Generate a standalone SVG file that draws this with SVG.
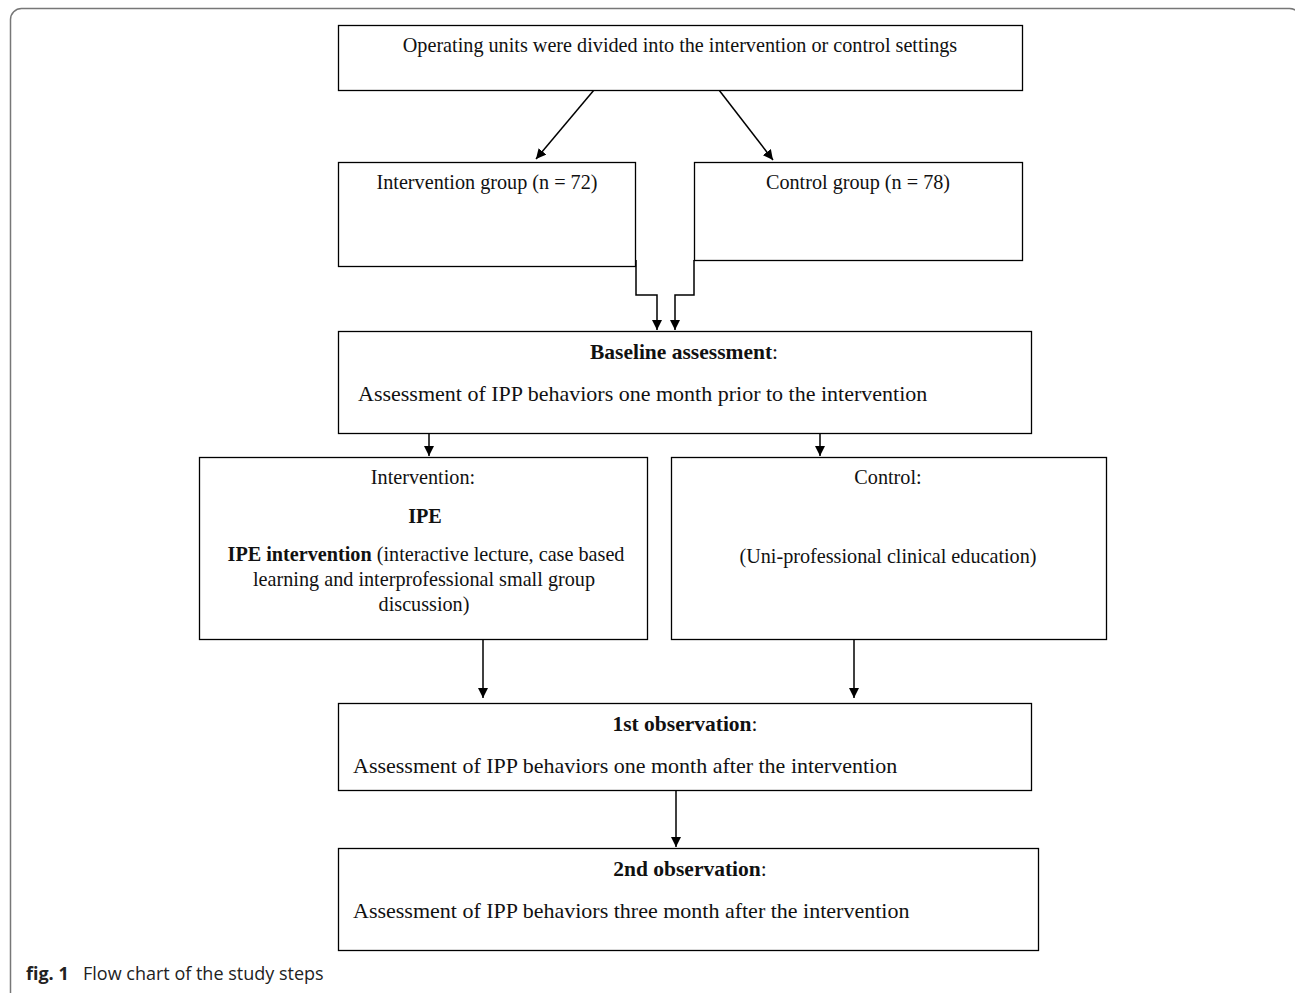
<svg xmlns="http://www.w3.org/2000/svg" width="1295" height="993" viewBox="0 0 1295 993">
<defs>
<marker id="ah" viewBox="0 0 10 10" refX="10" refY="5" markerWidth="10" markerHeight="10" markerUnits="userSpaceOnUse" orient="auto">
<path d="M0,0 L10,5 L0,10 z" fill="#000"/>
</marker>
<style>
.box{fill:#fff;stroke:#000;stroke-width:1.3}
.t{font-family:"Liberation Serif","Times New Roman",serif;fill:#111;font-size:22px}
.s{font-size:20.2px}
.h{font-size:21.5px}
.b{font-weight:bold}
.c{text-anchor:middle}
.conn{fill:none;stroke:#000;stroke-width:1.5}
.cap{font-family:"Open Sans","Noto Sans",sans-serif;font-size:18px;fill:#222}
</style>
</defs>
<rect x="10.5" y="8.5" width="1290" height="995" rx="11" fill="#fff" stroke="#777" stroke-width="1.5"/>
<g id="connectors">
<path class="conn" d="M594,90 L536,159" marker-end="url(#ah)"/>
<path class="conn" d="M719,90 L773,160" marker-end="url(#ah)"/>
<path class="conn" d="M636,260 V295 H657 V330" marker-end="url(#ah)"/>
<path class="conn" d="M694,260 V295 H675 V330" marker-end="url(#ah)"/>
<path class="conn" d="M429,433 V456" marker-end="url(#ah)"/>
<path class="conn" d="M820,433 V456" marker-end="url(#ah)"/>
<path class="conn" d="M483,639 V698" marker-end="url(#ah)"/>
<path class="conn" d="M854,639 V698" marker-end="url(#ah)"/>
<path class="conn" d="M676,790 V847" marker-end="url(#ah)"/>
</g>
<g id="node-top">
<rect class="box" x="338.5" y="25.5" width="684" height="65"/>
<text class="t s c" x="680" y="52">Operating units were divided into the intervention or control settings</text>
</g>
<g id="node-intgroup">
<rect class="box" x="338.5" y="162.5" width="297" height="104"/>
<text class="t s c" x="487" y="189">Intervention group (n = 72)</text>
</g>
<g id="node-ctrlgroup">
<rect class="box" x="694.5" y="162.5" width="328" height="98"/>
<text class="t s c" x="858" y="189">Control group (n = 78)</text>
</g>
<g id="node-baseline">
<rect class="box" x="338.5" y="331.5" width="693" height="102"/>
<text class="t h c" x="684" y="359"><tspan class="b">Baseline assessment</tspan>:</text>
<text class="t" x="358" y="401">Assessment of IPP behaviors one month prior to the intervention</text>
</g>
<g id="node-intervention">
<rect class="box" x="199.5" y="457.5" width="448" height="182"/>
<text class="t s c" x="423" y="484">Intervention:</text>
<text class="t s c b" x="425" y="523">IPE</text>
<text class="t s c" x="426" y="561"><tspan class="b">IPE intervention</tspan> (interactive lecture, case based</text>
<text class="t s c" x="424" y="586">learning and interprofessional small group</text>
<text class="t s c" x="424" y="611">discussion)</text>
</g>
<g id="node-control">
<rect class="box" x="671.5" y="457.5" width="435" height="182"/>
<text class="t s c" x="888" y="484">Control:</text>
<text class="t s c" x="888" y="563">(Uni-professional clinical education)</text>
</g>
<g id="node-obs1">
<rect class="box" x="338.5" y="703.5" width="693" height="87"/>
<text class="t h c" x="685" y="731"><tspan class="b">1st observation</tspan>:</text>
<text class="t" x="353" y="773">Assessment of IPP behaviors one month after the intervention</text>
</g>
<g id="node-obs2">
<rect class="box" x="338.5" y="848.5" width="700" height="102"/>
<text class="t h c" x="690" y="876"><tspan class="b">2nd observation</tspan>:</text>
<text class="t" x="353" y="918">Assessment of IPP behaviors three month after the intervention</text>
</g>
<text class="cap" font-weight="bold" x="26" y="980">fig. 1</text>
<text class="cap" x="83" y="980">Flow chart of the study steps</text>
</svg>
